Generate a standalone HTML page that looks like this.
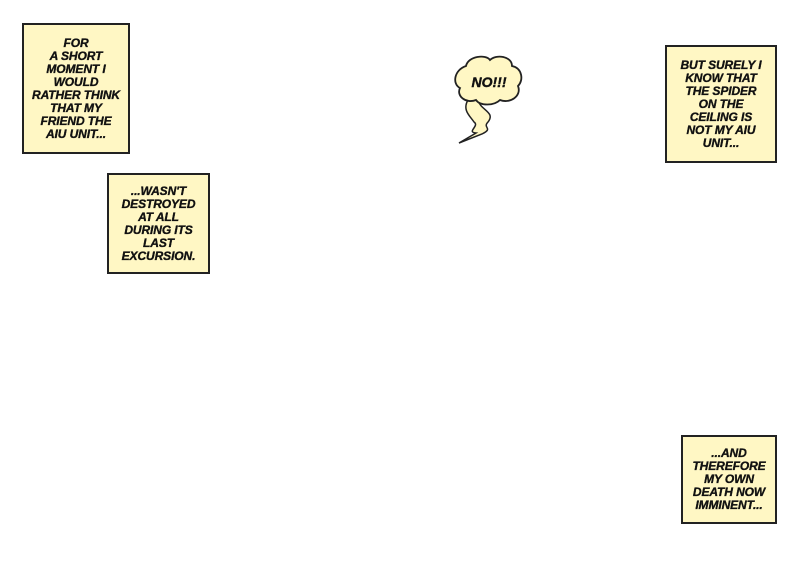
<!DOCTYPE html>
<html><head><meta charset="utf-8"><style>
body{margin:0;width:800px;height:570px;background:#fff;position:relative;overflow:hidden;font-family:"Liberation Sans",sans-serif;}
.b{position:absolute;box-sizing:border-box;background:#fff7c4;border:2px solid #222;display:flex;align-items:center;justify-content:center;text-align:center;font-weight:bold;font-style:italic;font-size:12px;line-height:13px;color:#111;letter-spacing:-0.1px;-webkit-text-stroke:0.35px #111;}
</style></head><body>
<div class="b" style="left:22px;top:23px;width:108px;height:131px;">FOR<br>A SHORT<br>MOMENT I<br>WOULD<br>RATHER THINK<br>THAT MY<br>FRIEND THE<br>AIU UNIT...</div>
<div class="b" style="left:107px;top:173px;width:103px;height:101px;">...WASN'T<br>DESTROYED<br>AT ALL<br>DURING ITS<br>LAST<br>EXCURSION.</div>
<div class="b" style="left:665px;top:45px;width:112px;height:118px;">BUT SURELY I<br>KNOW THAT<br>THE SPIDER<br>ON THE<br>CEILING IS<br>NOT MY AIU<br>UNIT...</div>
<div class="b" style="left:681px;top:435px;width:96px;height:89px;">...AND<br>THEREFORE<br>MY OWN<br>DEATH NOW<br>IMMINENT...</div>
<svg style="position:absolute;left:0;top:0" width="800" height="570">
<path d="M478 100 C480 110 496 112 488 122 C482 128 494 128 482 134 L459 143 L476 133 C466 132 480 126 474 122 C470 116 462 110 468 100 Z" fill="#fff7c4" stroke="#222" stroke-width="1.5"/>
<path d="M466 66 C468 56 486 54 490 60 C496 54 512 56 512 66 C522 68 524 80 518 86 C522 96 510 104 500 100 C494 106 480 106 476 100 C466 104 456 96 460 88 C452 84 454 70 466 66 Z" fill="#fff7c4" stroke="#222" stroke-width="1.8"/>
<text x="489" y="87" text-anchor="middle" font-family="Liberation Sans" font-weight="bold" font-style="italic" font-size="14" fill="#111" stroke="#111" stroke-width="0.4">NO!!!</text>
</svg>
</body></html>
